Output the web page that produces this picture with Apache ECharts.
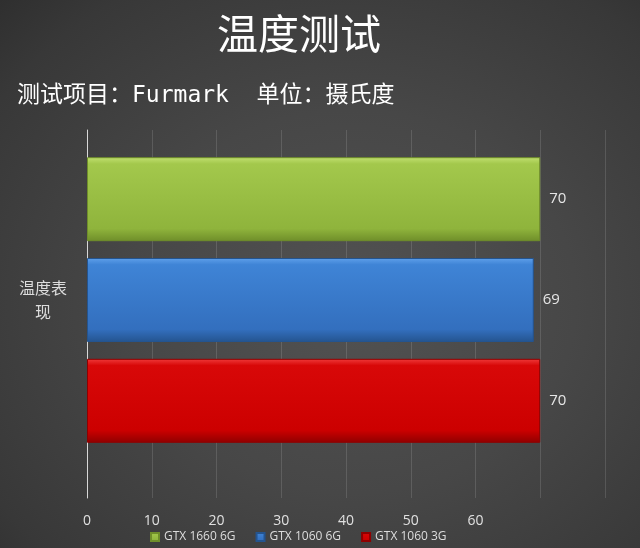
<!DOCTYPE html>
<html><head><meta charset="utf-8">
<script src="https://cdn.jsdelivr.net/npm/echarts@6/dist/echarts.min.js"></script>
<style>
html,body{margin:0;padding:0;width:640px;height:548px;overflow:hidden;}
body{background:radial-gradient(ellipse at 55% 55%, #525252 0%, #474747 45%, #383838 85%, #2f2f2f 100%);}
#c{width:640px;height:548px;}
</style></head>
<body><div id="c"></div>
<script>
var titleText = '温度测试';
var subtitleText = '测试项目：Furmark  单位：摄氏度';
var categories = ['温度表现'];
var seriesNames = ['GTX 1660 6G', 'GTX 1060 6G', 'GTX 1060 3G'];
var valuesGTX1660_6G = [70];
var valuesGTX1060_6G = [69];
var valuesGTX1060_3G = [70];
var tickLabels = ['0','10','20','30','40','50','60'];

var barColors = [
  ['#c2e070','#a3c84c','#8fb43c','#6f8e2a'],
  ['#5fa0ea','#3f84d6','#336fbe','#24548f'],
  ['#f03a3a','#d80808','#cc0000','#8f0000']
];
function grad(c){
  return new echarts.graphic.LinearGradient(0,0,0,1,[
    {offset:0,color:c[0]},{offset:0.08,color:c[1]},{offset:0.85,color:c[2]},{offset:1,color:c[3]}
  ]);
}
var allValues = [valuesGTX1660_6G, valuesGTX1060_6G, valuesGTX1060_3G];
var series = seriesNames.map(function(n,i){
  return {
    name:n, type:'bar', xAxisIndex:1, yAxisIndex:1,
    data:allValues[i], barWidth:84, barGap:'20%',
    itemStyle:{color:grad(barColors[i]), borderColor:barColors[i][3], borderWidth:1},
    label:{show:true, position:'right', distance:9, color:'#e6e6e6', fontSize:15, fontFamily:'"Open Sans", sans-serif'}
  };
});
var chart = echarts.init(document.getElementById('c'), null, {renderer:'canvas'});
chart.setOption({
  backgroundColor:'transparent',
  animation:false,
  title:[
    {text:titleText, left:212, top:8, textStyle:{color:'#ffffff', fontSize:41, fontWeight:'normal', fontFamily:'"Noto Sans CJK SC", sans-serif'}},
    {text:subtitleText, left:12, top:80, textStyle:{color:'#ffffff', fontSize:23, fontWeight:'normal', fontFamily:'"DejaVu Sans Mono", "Noto Sans CJK SC", monospace'}}
  ],
  legend:{
    data:seriesNames, left:145, bottom:0, itemWidth:8, itemHeight:8, itemGap:20,
    icon:'rect', textStyle:{color:'#dddddd', fontSize:12, fontFamily:'"Open Sans", sans-serif'}
  },
  grid:[
    {left:87, right:35, top:130, bottom:50},
    {left:87, right:35, top:130, bottom:78}
  ],
  xAxis:[
    {gridIndex:0, type:'value', min:0, max:80, interval:10,
     axisLine:{show:false}, axisTick:{show:false},
     splitLine:{show:true, lineStyle:{color:'rgba(255,255,255,0.13)', width:1}},
     axisLabel:{color:'#e0e0e0', fontSize:14, margin:16, fontFamily:'"Open Sans", sans-serif',
       formatter:function(v){ return tickLabels.indexOf(String(v))>=0 ? String(v) : ''; }}},
    {gridIndex:1, type:'value', min:0, max:80, interval:10, show:false}
  ],
  yAxis:[
    {gridIndex:0, type:'category', data:categories,
     axisLine:{show:true, lineStyle:{color:'#d8d8d8', width:1}}, axisTick:{show:false}, axisLabel:{show:false}},
    {gridIndex:1, type:'category', data:categories, inverse:true,
     axisLine:{show:false}, axisTick:{show:false},
     axisLabel:{color:'#dddddd', fontSize:16, margin:44, align:'center', lineHeight:24,
       fontFamily:'"Noto Sans CJK SC", sans-serif',
       formatter:function(v){ return v.slice(0,3)+'\n'+v.slice(3); }}}
  ],
  series:series
});
</script></body></html>
